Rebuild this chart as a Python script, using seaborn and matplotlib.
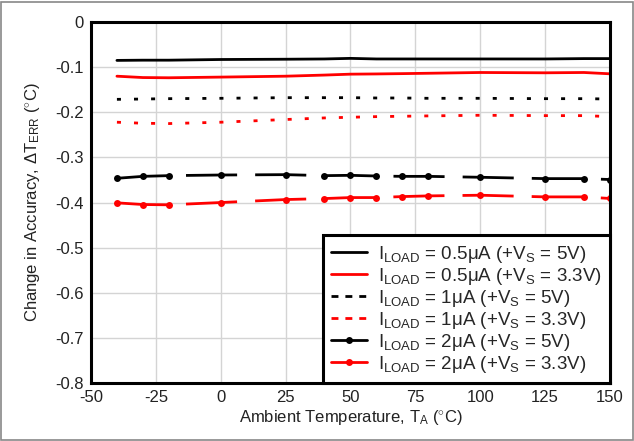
import matplotlib
matplotlib.use("Agg")
import matplotlib.pyplot as plt
import seaborn as sns
import pandas as pd
from matplotlib.lines import Line2D
from matplotlib.patches import Rectangle

temps = [-40, -30, -20, 0, 25, 40, 50, 60, 70, 80, 100, 125, 140, 150]
i05_5v = [-0.085, -0.0845, -0.0845, -0.083, -0.0824, -0.0818, -0.0805, -0.0818, -0.0818, -0.0818, -0.0818, -0.0818, -0.081, -0.081]
i05_33v = [-0.120, -0.123, -0.1235, -0.122, -0.120, -0.1175, -0.1155, -0.115, -0.1143, -0.1135, -0.1118, -0.1125, -0.1118, -0.1147]
i1_5v = [-0.1713, -0.1706, -0.1698, -0.169, -0.1676, -0.1676, -0.1676, -0.1683, -0.1683, -0.169, -0.169, -0.1698, -0.1698, -0.1706]
i1_33v = [-0.222, -0.2243, -0.225, -0.222, -0.216, -0.2125, -0.211, -0.2096, -0.2088, -0.208, -0.2066, -0.2074, -0.2074, -0.2096]
i2_5v = [-0.3463, -0.342, -0.3404, -0.339, -0.3382, -0.3404, -0.3397, -0.3412, -0.342, -0.342, -0.344, -0.347, -0.347, -0.349]
i2_33v = [-0.4007, -0.4044, -0.4051, -0.400, -0.3934, -0.3912, -0.389, -0.389, -0.3868, -0.3853, -0.3838, -0.3875, -0.3875, -0.391]

labels = [
    r"I$_{\mathrm{LOAD}}$ = 0.5$\mathrm{\mu}$A (+V$_{\mathrm{S}}$ = 5V)",
    r"I$_{\mathrm{LOAD}}$ = 0.5$\mathrm{\mu}$A (+V$_{\mathrm{S}}$ = 3.3V)",
    r"I$_{\mathrm{LOAD}}$ = 1$\mathrm{\mu}$A (+V$_{\mathrm{S}}$ = 5V)",
    r"I$_{\mathrm{LOAD}}$ = 1$\mathrm{\mu}$A (+V$_{\mathrm{S}}$ = 3.3V)",
    r"I$_{\mathrm{LOAD}}$ = 2$\mathrm{\mu}$A (+V$_{\mathrm{S}}$ = 5V)",
    r"I$_{\mathrm{LOAD}}$ = 2$\mathrm{\mu}$A (+V$_{\mathrm{S}}$ = 3.3V)",
]

sns.set_style("white")
plt.rcParams["font.family"] = ["Liberation Sans", "DejaVu Sans"]
plt.rcParams["mathtext.fontset"] = "custom"
plt.rcParams["mathtext.rm"] = "Liberation Sans"
plt.rcParams["mathtext.it"] = "Liberation Sans:italic"
plt.rcParams["mathtext.default"] = "rm"

fig = plt.figure(figsize=(6.34, 4.41), dpi=100)
ax = fig.add_axes([0.1435, 0.1315, 0.8185, 0.8185])

series = [i05_5v, i05_33v, i1_5v, i1_33v, i2_5v, i2_33v]
colors = ["black", "red", "black", "red", "black", "red"]
lw = 2.0
for k, (vals, c) in enumerate(zip(series, colors)):
    df = pd.DataFrame({"T": temps, "v": vals})
    kw = dict(color=c, linewidth=lw)
    if k in (2, 3):
        kw["dashes"] = (1.45, 4.7)
    if k in (4, 5):
        kw.update(marker="o", markersize=5, markeredgewidth=0)
        kw["dashes"] = (18.4, 6.5)
    sns.lineplot(data=df, x="T", y="v", ax=ax, **kw)

ax.set_xlim(-50, 150)
ax.set_ylim(-0.8, 0)
xt = [-50, -25, 0, 25, 50, 75, 100, 125, 150]
yt = [0, -0.1, -0.2, -0.3, -0.4, -0.5, -0.6, -0.7, -0.8]
ax.set_xticks(xt)
ax.set_xticklabels([str(v) for v in xt])
ax.set_yticks(yt)
ax.set_yticklabels(["0"] + [f"{v:.1f}" for v in yt[1:]])
ax.tick_params(axis="both", length=0, labelsize=12, pad=5, colors="#222222")
ax.grid(True, color="#d4d4d4", linewidth=1)
for s in ax.spines.values():
    s.set_color("black")
    s.set_linewidth(2.2)

ax.set_xlabel(r"Ambient Temperature, T$_{\mathrm{A}}$ ($^{\circ}$C)", fontsize=12, labelpad=2, color="#222222")
ax.set_ylabel(r"Change in Accuracy, $\Delta$T$_{\mathrm{ERR}}$ ($^{\circ}$C)", fontsize=12, labelpad=10, color="#222222")

handles = [
    Line2D([], [], color="black", lw=lw),
    Line2D([], [], color="red", lw=lw),
    Line2D([], [], color="black", lw=lw, dashes=(2.5, 2.5)),
    Line2D([], [], color="red", lw=lw, dashes=(2.5, 2.5)),
    Line2D([], [], color="black", lw=lw, marker="o", markersize=5, markevery=[0, 1], markeredgewidth=0),
    Line2D([], [], color="red", lw=lw, marker="o", markersize=5, markevery=[0, 1], markeredgewidth=0),
]
leg = ax.legend(handles, labels, loc="lower right", bbox_to_anchor=(1, 0), borderaxespad=0,
                fontsize=13.5, frameon=True, fancybox=False, handlelength=1.9, labelspacing=0.05,
                handletextpad=0.57, borderpad=0.45)
leg.get_frame().set_edgecolor("black")
leg.get_frame().set_linewidth(2.2)
leg.get_frame().set_alpha(1)

fig.patches.append(Rectangle((0.002, 0.002), 0.996, 0.993, transform=fig.transFigure,
                             fill=False, edgecolor="#888888", linewidth=1.2))
fig.savefig("out.png", dpi=100)
